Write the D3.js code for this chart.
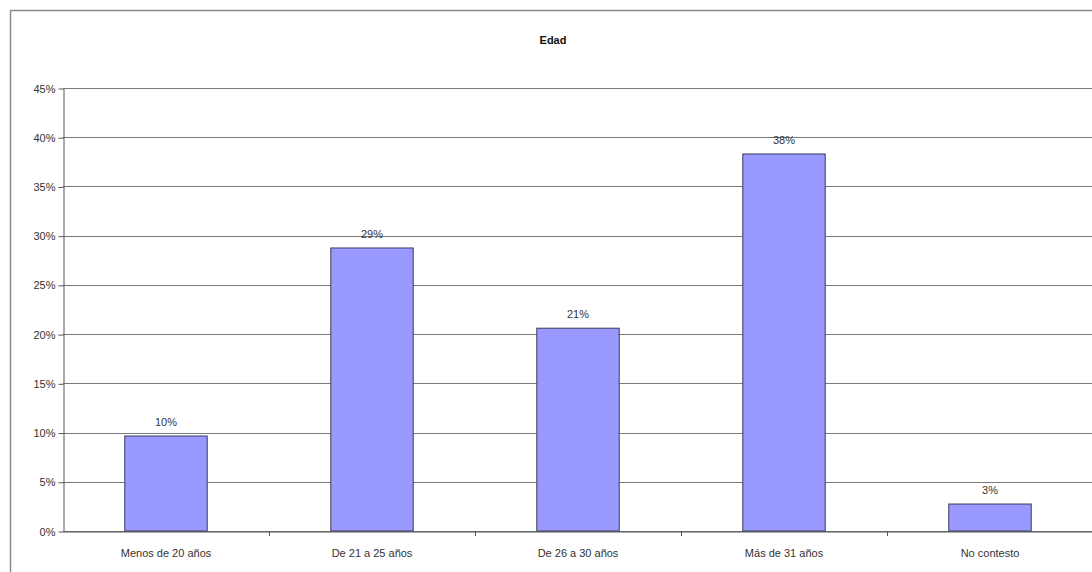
<!DOCTYPE html>
<html>
<head>
<meta charset="utf-8">
<script src="https://cdn.jsdelivr.net/npm/d3@7"></script>
<style>
  body { margin: 0; background: #fff; }
  svg { display: block; }
</style>
</head>
<body>
<svg width="1092" height="572"></svg>
<script>
const svg = d3.select('svg');

const categories = ['Menos de 20 años', 'De 21 a 25 años', 'De 26 a 30 años', 'Más de 31 años', 'No contesto'];
const values = [0.0965, 0.2875, 0.206, 0.383, 0.0274];
const yTicks = [0, 0.05, 0.10, 0.15, 0.20, 0.25, 0.30, 0.35, 0.40, 0.45];

const plotLeft = 63, plotRight = 1093, plotTop = 88, plotBottom = 531;
const font = 'Liberation Sans, Arial, sans-serif';

// chart frame (runs off the right and bottom edge)
svg.append('rect')
	.attr('x', 10.5).attr('y', 10.5)
	.attr('width', 1200).attr('height', 700)
	.attr('fill', '#fff')
	.attr('stroke', '#8a8a8a')
	.attr('stroke-width', 1.5);

svg.append('text')
	.text('Edad')
	.attr('x', 553).attr('y', 44)
	.attr('text-anchor', 'middle')
	.attr('font-family', font)
	.attr('font-weight', 'bold')
	.attr('font-size', '11px')
	.attr('fill', '#111');

const x = d3.scaleBand().domain(categories).range([plotLeft, plotRight])
	.paddingInner(0.6).paddingOuter(0.3);
const y = d3.scaleLinear().domain([0, 0.45]).range([plotBottom, plotTop]);

// gridlines
svg.selectAll('line.grid').data(yTicks)
	.enter().append('line')
		.attr('class', 'grid')
		.attr('x1', plotLeft).attr('x2', plotRight)
		.attr('y1', d => Math.round(y(d)) + 0.5)
		.attr('y2', d => Math.round(y(d)) + 0.5)
		.attr('stroke', '#7a7a7a')
		.attr('stroke-width', 1.2);

// y axis
const yAxis = svg.append('g')
	.attr('transform', `translate(${plotLeft + 0.5},0.5)`)
	.call(d3.axisLeft(y).tickValues(yTicks).tickFormat(d3.format('.0%')).tickSize(5).tickSizeOuter(0));
yAxis.select('.domain').attr('stroke', '#555');
yAxis.selectAll('.tick line').attr('stroke', '#555');
yAxis.selectAll('.tick text')
	.attr('font-family', font)
	.attr('font-size', '11px')
	.attr('fill', '#333')
	.attr('x', -8);

// bars
svg.selectAll('rect.bar').data(values)
	.enter().append('rect')
		.attr('class', 'bar')
		.attr('x', (d, i) => x(categories[i]))
		.attr('y', d => y(d))
		.attr('width', x.bandwidth())
		.attr('height', d => plotBottom - y(d))
		.attr('fill', '#9999ff')
		.attr('stroke', '#3a3a5a')
		.attr('stroke-width', 1);

// value labels
svg.selectAll('text.val').data(values)
	.enter().append('text')
		.attr('class', 'val')
		.text(d => d3.format('.0%')(d))
		.attr('x', (d, i) => x(categories[i]) + x.bandwidth() / 2)
		.attr('y', d => y(d) - 10)
		.attr('text-anchor', 'middle')
		.attr('font-family', font)
		.attr('font-size', '11px')
		.attr('fill', '#333');

// x axis
const xAxis = svg.append('g')
	.attr('transform', `translate(0,${plotBottom + 0.5})`)
	.call(d3.axisBottom(x).tickSize(0).tickSizeOuter(0));
xAxis.select('.domain').attr('stroke', '#555');
xAxis.selectAll('.tick text')
	.attr('font-family', font)
	.attr('font-size', '11px')
	.attr('fill', '#333')
	.attr('dy', 0)
	.attr('y', 25);

// tick marks between categories
svg.selectAll('line.xtick').data(categories.slice(1))
	.enter().append('line')
		.attr('class', 'xtick')
		.attr('x1', d => Math.round(x(d) - x.step() * x.paddingInner() / 2) + 0.5)
		.attr('x2', d => Math.round(x(d) - x.step() * x.paddingInner() / 2) + 0.5)
		.attr('y1', plotBottom).attr('y2', plotBottom + 5)
		.attr('stroke', '#555');
</script>
</body>
</html>
